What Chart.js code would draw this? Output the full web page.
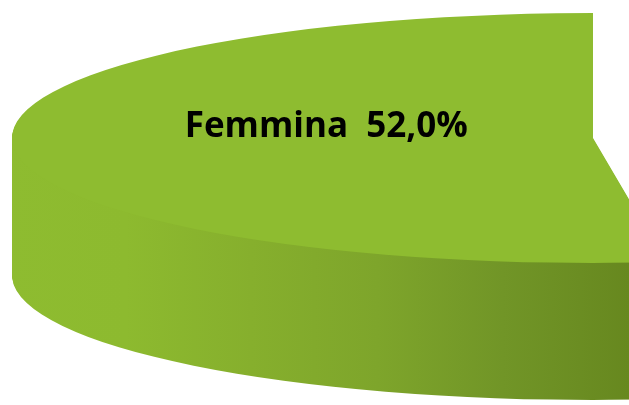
<!DOCTYPE html>
<html>
<head>
<meta charset="utf-8">
<title>Femmina 52,0%</title>
<script src="https://cdn.jsdelivr.net/npm/chart.js"></script>
<style>
    html, body { margin: 0; padding: 0; background: #ffffff; overflow: hidden; }
    #wrap { position: relative; width: 629px; height: 405px; overflow: hidden; }
    #pie { position: absolute; left: 0; top: 0; }
</style>
</head>
<body>
<div id="wrap">
    <canvas id="pie" width="1200" height="405"></canvas>
</div>
<script>
// data
const categories = ['Maschio', 'Femmina'];
const shares = [48.0, 52.0];
const sliceColors = ['#4F81BD', '#8EBC30'];

// look of the 3d pie
const tilt = 0.215;      // how flat the top ellipse is
const depth = 137;       // height of the side wall, px
const wallStops = [
    [[0, '#3E6A9E'], [1, '#2C4F78']],
    [[0, '#8EBC30'], [0.2, '#8DBA2F'], [0.4, '#86AF2D'], [0.6, '#7EA52B'], [0.8, '#719527'], [1, '#67881F']]
];

// same outline as the arc element, used for the extruded copies
function slicePath(ctx, arc) {
    const off = (arc.options.offset || 0) / 4;
    const half = (arc.startAngle + arc.endAngle) / 2;
    const fix = 1 - Math.sin(Math.min(Math.PI, arc.circumference || 0));
    const x = arc.x + Math.cos(half) * off;
    const y = arc.y + Math.sin(half) * off;
    ctx.beginPath();
    ctx.moveTo(x, y);
    ctx.arc(x, y, arc.outerRadius + off * fix, arc.startAngle, arc.endAngle);
    ctx.closePath();
}

const pie3d = {
    id: 'pie3d',
    beforeDatasetsDraw(chart) {
        const ctx = chart.ctx;
        const arcs = chart.getDatasetMeta(0).data;
        const cx = arcs[0].x;
        const cy = arcs[0].y;

        ctx.save();
        ctx.translate(cx, cy);
        ctx.scale(1, tilt);
        ctx.translate(-cx, -cy);

        // side walls, stacked copies below the top face
        arcs.forEach(function (arc, i) {
            const grad = ctx.createLinearGradient(0, 0, 629, 0);
            wallStops[i].forEach(function (s) { grad.addColorStop(s[0], s[1]); });
            ctx.fillStyle = grad;
            for (let d = depth; d > 0; d--) {
                ctx.save();
                ctx.translate(0, d / tilt);
                slicePath(ctx, arc);
                ctx.fill();
                ctx.restore();
            }
        });
        // top faces get drawn by chart.js under this transform
    },
    afterDatasetsDraw(chart) {
        const ctx = chart.ctx;
        ctx.restore();

        const arcs = chart.getDatasetMeta(0).data;
        ctx.save();
        ctx.font = 'bold 35px "Open Sans", "DejaVu Sans", sans-serif';
        ctx.fillStyle = '#000000';
        ctx.textAlign = 'center';
        ctx.textBaseline = 'middle';
        arcs.forEach(function (arc, i) {
            const mid = (arc.startAngle + arc.endAngle) / 2;
            const r = arc.outerRadius * 0.46;
            const x = arc.x + Math.cos(mid) * r;
            const y = arc.y + Math.sin(mid) * r * tilt - 15;
            const txt = categories[i] + '  ' + shares[i].toFixed(1).replace('.', ',') + '%';
            ctx.fillText(txt, x, y);
        });
        ctx.restore();
    }
};

// Maschio is pulled out to the right, outside the visible crop
const myChart = new Chart(document.getElementById('pie'), {
    type: 'pie',
    data: {
        labels: categories,
        datasets: [{
            data: shares,
            backgroundColor: sliceColors,
            borderWidth: 0,
            offset: [180, 0],
            radius: 581,
            clip: false
        }]
    },
    options: {
        responsive: false,
        animation: false,
        events: [],
        layout: { padding: { left: 0, right: 14, top: 0, bottom: 129 } },
        plugins: {
            legend: { display: false },
            tooltip: { enabled: false }
        }
    },
    plugins: [pie3d]
});
</script>
</body>
</html>
